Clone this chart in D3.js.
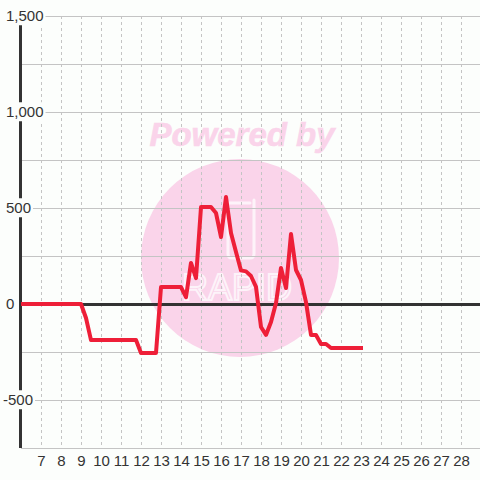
<!DOCTYPE html>
<html>
<head>
<meta charset="utf-8">
<script src="https://cdn.jsdelivr.net/npm/d3@7"></script>
<style>
  body { margin: 0; background: #fcfefc; }
  svg { display: block; font-family: "Liberation Sans", Arial, sans-serif; }
</style>
</head>
<body>
<svg id="chart" width="480" height="480"></svg>
<script>
// hour of day, value
var hours  = [6, 9, 9.25, 9.5, 11.75, 12, 12.75, 13, 14, 14.25, 14.5, 14.75, 15, 15.5, 15.75,
              16, 16.25, 16.5, 16.75, 17, 17.25, 17.5, 17.75, 18, 18.25, 18.5, 18.75, 19,
              19.25, 19.5, 19.75, 20, 20.25, 20.5, 20.75, 21, 21.25, 21.5, 23.1];
var values = [0, 0, -73, -188, -188, -255, -255, 88, 88, 36, 214, 135, 505, 505, 474,
              349, 557, 370, 271, 175, 170, 146, 89, -120, -161, -94, 5, 188,
              83, 365, 177, 125, 10, -161, -161, -208, -208, -229, -229];

var xTicks = d3.range(7, 29);
var yGrid  = [-750, -500, -250, 0, 250, 500, 750, 1000, 1250, 1500];
var yLabels = [-500, 0, 500, 1000, 1500];

var svg = d3.select("#chart");
var bg = "#fcfefc";

var x = d3.scaleLinear().domain([6, 29]).range([21, 481]);
var y = d3.scaleLinear().domain([-750, 1500]).range([448, 16]);

svg.append("rect").attr("width", 480).attr("height", 480).attr("fill", bg);

// watermark
var wm = svg.append("g");
wm.append("circle").attr("cx", 240).attr("cy", 258).attr("r", 99).attr("fill", "#fad4ea");
wm.append("text")
    .attr("x", 242).attr("y", 146)
    .attr("text-anchor", "middle")
    .attr("font-size", 33).attr("font-weight", "bold").attr("font-style", "italic")
    .attr("fill", "#fad4ea").attr("stroke", "#fad4ea").attr("stroke-width", 0.6)
    .text("Powered by");
wm.append("path")
    .attr("d", "M228,203 L228,254 Q228,258 232,258 L250,258 Q254,258 254,254 L254,203 M228,203 L250,203 M254,200 L254,214")
    .attr("fill", "none").attr("stroke", "#fdf3f9").attr("stroke-width", 3).attr("stroke-linecap", "round");
wm.append("text")
    .attr("x", 237).attr("y", 300)
    .attr("text-anchor", "middle")
    .attr("font-size", 36)
    .attr("fill", "none").attr("stroke", "#fdf3f9").attr("stroke-width", 2)
    .text("RAPID");

// grid
svg.append("g").selectAll("line").data(xTicks).join("line")
    .attr("x1", d => x(d) + 0.5).attr("x2", d => x(d) + 0.5)
    .attr("y1", 16).attr("y2", 448)
    .attr("stroke", "#c4c4c4").attr("stroke-dasharray", "3,3");

svg.append("g").selectAll("line").data(yGrid).join("line")
    .attr("x1", 21).attr("x2", 480)
    .attr("y1", d => y(d) + 0.5).attr("y2", d => y(d) + 0.5)
    .attr("stroke", "#c4c4c4");

// axes
svg.append("line").attr("x1", 20.5).attr("x2", 20.5).attr("y1", 16).attr("y2", 448)
    .attr("stroke", "#333").attr("stroke-width", 3);
svg.append("line").attr("x1", 21).attr("x2", 480).attr("y1", y(0) + 0.5).attr("y2", y(0) + 0.5)
    .attr("stroke", "#333").attr("stroke-width", 3);

var fmt = d3.format(",");
var yl = svg.append("g").selectAll("g").data(yLabels).join("g");
yl.append("rect").attr("fill", bg);
yl.append("text")
    .attr("x", d => d < 0 ? 3 : 6)
    .attr("y", d => y(d))
    .attr("dy", "0.35em")
    .attr("font-size", 15).attr("fill", "#333")
    .text(d => fmt(d).replace("−", "-"));
yl.each(function() {
    var b = d3.select(this).select("text").node().getBBox();
    d3.select(this).select("rect")
        .attr("x", b.x - 1).attr("y", b.y - 1)
        .attr("width", b.width + 3).attr("height", b.height + 2);
});

svg.append("g").selectAll("text").data(xTicks).join("text")
    .attr("x", d => x(d) + 0.5).attr("y", 466)
    .attr("text-anchor", "middle")
    .attr("font-size", 15).attr("fill", "#333")
    .text(d => d);

// series
var line = d3.line().x((d, i) => x(d)).y((d, i) => y(values[i]));
svg.append("path")
    .datum(hours)
    .attr("d", line)
    .attr("fill", "none")
    .attr("stroke", "#ee1f38")
    .attr("stroke-width", 4)
    .attr("stroke-linejoin", "round");
</script>
</body>
</html>
